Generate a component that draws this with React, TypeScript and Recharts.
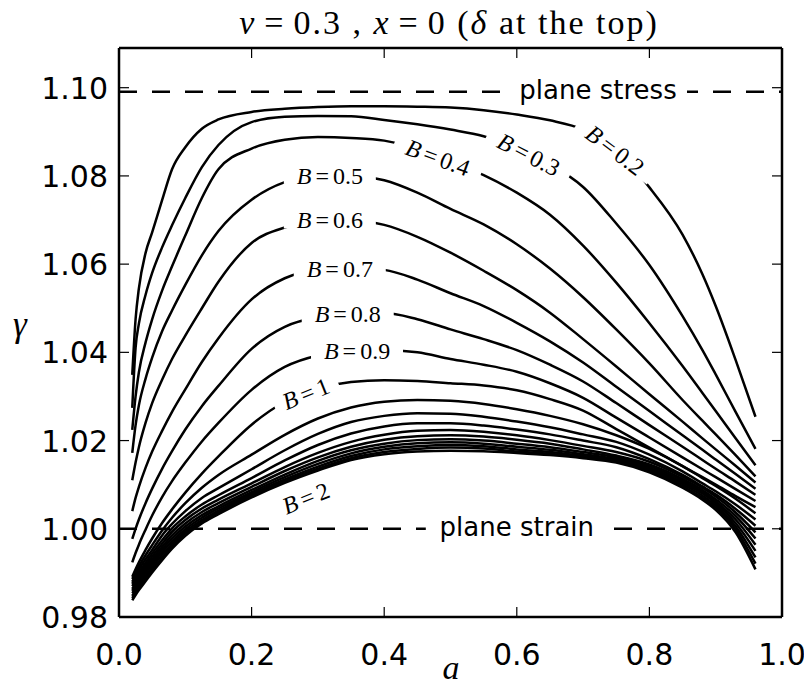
import { LineChart, Line, XAxis, YAxis, ReferenceLine, ReferenceDot } from "recharts"

// a values shared by every curve
const aGrid = [0.02, 0.025, 0.03, 0.04, 0.05, 0.065, 0.08, 0.1, 0.125, 0.15, 0.2, 0.25, 0.3, 0.35, 0.4, 0.45, 0.5, 0.55, 0.6, 0.65, 0.7, 0.75, 0.8, 0.85, 0.88, 0.9, 0.93, 0.96]

// gamma for each B
const gB02 = [1.0349, 1.0475, 1.0545, 1.0625, 1.0672, 1.0745, 1.0815, 1.0865, 1.0907, 1.0928, 1.0945, 1.0952, 1.0956, 1.0958, 1.0958, 1.0957, 1.0955, 1.0949, 1.0939, 1.0926, 1.0905, 1.0858, 1.0774, 1.0667, 1.0577, 1.0505, 1.0383, 1.0254]
const gB03 = [1.0274, 1.0410, 1.0465, 1.0530, 1.0580, 1.0638, 1.0688, 1.0750, 1.0820, 1.0870, 1.0922, 1.0934, 1.0936, 1.0935, 1.0927, 1.0917, 1.0905, 1.0890, 1.0862, 1.0826, 1.0775, 1.0692, 1.0598, 1.0482, 1.0405, 1.0350, 1.0265, 1.0181]
const gB04 = [1.0224, 1.0300, 1.0355, 1.0422, 1.0475, 1.0540, 1.0595, 1.0665, 1.0750, 1.0815, 1.0862, 1.0882, 1.0888, 1.0886, 1.0880, 1.0862, 1.0832, 1.0802, 1.0762, 1.0712, 1.0642, 1.0558, 1.0466, 1.0369, 1.0308, 1.0267, 1.0205, 1.0144]
const gB05 = [1.0172, 1.0235, 1.0280, 1.0340, 1.0388, 1.0448, 1.0495, 1.0553, 1.0620, 1.0675, 1.0746, 1.0786, 1.0800, 1.0800, 1.0790, 1.0762, 1.0725, 1.0690, 1.0645, 1.0590, 1.0525, 1.0452, 1.0375, 1.0292, 1.0245, 1.0214, 1.0167, 1.0119]
const gB06 = [1.0110, 1.0150, 1.0185, 1.0240, 1.0285, 1.0338, 1.0385, 1.0438, 1.0500, 1.0560, 1.0648, 1.0683, 1.0697, 1.0699, 1.0689, 1.0662, 1.0626, 1.0585, 1.0541, 1.0490, 1.0430, 1.0368, 1.0305, 1.0243, 1.0205, 1.0180, 1.0143, 1.0105]
const gB07 = [1.0040, 1.0070, 1.0095, 1.0138, 1.0175, 1.0222, 1.0265, 1.0316, 1.0378, 1.0432, 1.0520, 1.0568, 1.0588, 1.0592, 1.0587, 1.0565, 1.0534, 1.0505, 1.0467, 1.0425, 1.0377, 1.0322, 1.0267, 1.0212, 1.0179, 1.0157, 1.0124, 1.0091]
const gB08 = [0.9977, 1.0000, 1.0021, 1.0058, 1.0091, 1.0136, 1.0176, 1.0225, 1.0278, 1.0324, 1.0408, 1.0458, 1.0480, 1.0488, 1.0489, 1.0475, 1.0452, 1.0430, 1.0405, 1.0372, 1.0334, 1.0285, 1.0235, 1.0186, 1.0156, 1.0136, 1.0107, 1.0077]
const gB09 = [0.9924, 0.9945, 0.9964, 0.9998, 1.0030, 1.0072, 1.0108, 1.0150, 1.0198, 1.0240, 1.0315, 1.0367, 1.0393, 1.0402, 1.0405, 1.0400, 1.0385, 1.0372, 1.0356, 1.0330, 1.0297, 1.0252, 1.0207, 1.0162, 1.0135, 1.0117, 1.0090, 1.0063]
const gB10 = [0.9891, 0.9908, 0.9924, 0.9952, 0.9978, 1.0013, 1.0044, 1.0082, 1.0125, 1.0164, 1.0236, 1.0288, 1.0318, 1.0333, 1.0337, 1.0335, 1.0330, 1.0325, 1.0314, 1.0294, 1.0268, 1.0226, 1.0184, 1.0142, 1.0117, 1.0100, 1.0074, 1.0049]
const gB11 = [0.9886, 0.9901, 0.9915, 0.9940, 0.9963, 0.9996, 1.0025, 1.0058, 1.0093, 1.0122, 1.0168, 1.0213, 1.0250, 1.0275, 1.0288, 1.0292, 1.0290, 1.0283, 1.0271, 1.0256, 1.0237, 1.0212, 1.0181, 1.0142, 1.0115, 1.0097, 1.0068, 1.0035]
const gB12 = [0.9880, 0.9895, 0.9908, 0.9931, 0.9952, 0.9985, 1.0011, 1.0040, 1.0070, 1.0092, 1.0135, 1.0178, 1.0215, 1.0242, 1.0256, 1.0262, 1.0261, 1.0254, 1.0243, 1.0230, 1.0214, 1.0197, 1.0168, 1.0130, 1.0103, 1.0085, 1.0055, 1.0021]
const gB13 = [0.9875, 0.9889, 0.9901, 0.9923, 0.9944, 0.9974, 1.0001, 1.0028, 1.0055, 1.0076, 1.0115, 1.0155, 1.0190, 1.0216, 1.0232, 1.0239, 1.0239, 1.0234, 1.0225, 1.0214, 1.0200, 1.0185, 1.0158, 1.0122, 1.0096, 1.0078, 1.0045, 1.0007]
const gB14 = [0.9870, 0.9883, 0.9895, 0.9917, 0.9937, 0.9966, 0.9993, 1.0020, 1.0046, 1.0066, 1.0103, 1.0140, 1.0172, 1.0197, 1.0213, 1.0222, 1.0224, 1.0220, 1.0212, 1.0201, 1.0188, 1.0174, 1.0152, 1.0118, 1.0093, 1.0073, 1.0037, 0.9992]
const gB15 = [0.9864, 0.9877, 0.9889, 0.9911, 0.9931, 0.9959, 0.9985, 1.0012, 1.0038, 1.0058, 1.0095, 1.0131, 1.0162, 1.0186, 1.0202, 1.0210, 1.0212, 1.0209, 1.0202, 1.0193, 1.0180, 1.0166, 1.0146, 1.0113, 1.0088, 1.0067, 1.0029, 0.9978]
const gB16 = [0.9859, 0.9872, 0.9884, 0.9905, 0.9925, 0.9953, 0.9978, 1.0005, 1.0031, 1.0051, 1.0088, 1.0123, 1.0154, 1.0178, 1.0193, 1.0201, 1.0203, 1.0200, 1.0193, 1.0185, 1.0174, 1.0162, 1.0142, 1.0109, 1.0084, 1.0062, 1.0021, 0.9964]
const gB17 = [0.9854, 0.9866, 0.9878, 0.9899, 0.9919, 0.9947, 0.9972, 0.9999, 1.0025, 1.0046, 1.0083, 1.0117, 1.0147, 1.0171, 1.0186, 1.0194, 1.0196, 1.0193, 1.0186, 1.0179, 1.0169, 1.0158, 1.0138, 1.0105, 1.0080, 1.0058, 1.0013, 0.9950]
const gB18 = [0.9848, 0.9861, 0.9872, 0.9893, 0.9913, 0.9941, 0.9966, 0.9994, 1.0020, 1.0041, 1.0079, 1.0112, 1.0141, 1.0165, 1.0180, 1.0187, 1.0190, 1.0187, 1.0180, 1.0174, 1.0165, 1.0155, 1.0135, 1.0101, 1.0075, 1.0053, 1.0006, 0.9935]
const gB19 = [0.9843, 0.9855, 0.9866, 0.9887, 0.9907, 0.9935, 0.9960, 0.9989, 1.0016, 1.0037, 1.0075, 1.0108, 1.0136, 1.0160, 1.0174, 1.0181, 1.0184, 1.0182, 1.0175, 1.0170, 1.0162, 1.0152, 1.0131, 1.0097, 1.0070, 1.0048, 0.9999, 0.9921]
const gB20 = [0.9838, 0.9850, 0.9861, 0.9881, 0.9901, 0.9929, 0.9955, 0.9984, 1.0012, 1.0033, 1.0071, 1.0104, 1.0132, 1.0156, 1.0169, 1.0175, 1.0177, 1.0176, 1.0172, 1.0167, 1.0160, 1.0150, 1.0128, 1.0093, 1.0066, 1.0043, 0.9992, 0.9908]

const curves = [
  { key: "B0.2", values: gB02 }, { key: "B0.3", values: gB03 }, { key: "B0.4", values: gB04 },
  { key: "B0.5", values: gB05 }, { key: "B0.6", values: gB06 }, { key: "B0.7", values: gB07 },
  { key: "B0.8", values: gB08 }, { key: "B0.9", values: gB09 }, { key: "B1.0", values: gB10 },
  { key: "B1.1", values: gB11 }, { key: "B1.2", values: gB12 }, { key: "B1.3", values: gB13 },
  { key: "B1.4", values: gB14 }, { key: "B1.5", values: gB15 }, { key: "B1.6", values: gB16 },
  { key: "B1.7", values: gB17 }, { key: "B1.8", values: gB18 }, { key: "B1.9", values: gB19 },
  { key: "B2.0", values: gB20 },
]

const xTicks = [0, 0.2, 0.4, 0.6, 0.8, 1.0]
const yTicks = [0.98, 1.0, 1.02, 1.04, 1.06, 1.08, 1.1]

const planeStress = 1.0991
const planeStrain = 1.0

// inline curve labels: text, a, gamma, angle
const curveLabels = [
  { text: "0.2", a: 0.748, g: 1.0858, angle: 37, gap: true },
  { text: "0.3", a: 0.618, g: 1.0848, angle: 27, gap: true },
  { text: "0.4", a: 0.481, g: 1.0841, angle: 20, gap: true },
  { text: "0.5", a: 0.318, g: 1.0800, angle: 0, gap: true },
  { text: "0.6", a: 0.318, g: 1.0699, angle: 0, gap: true },
  { text: "0.7", a: 0.333, g: 1.0590, angle: 0, gap: true },
  { text: "0.8", a: 0.345, g: 1.0486, angle: 0, gap: true },
  { text: "0.9", a: 0.359, g: 1.0402, angle: 0, gap: true },
  { text: "1", a: 0.282, g: 1.0306, angle: -22, gap: true },
  { text: "2", a: 0.282, g: 1.0069, angle: -22, gap: false },
]

const tableData = aGrid.map((a, i) => {
  const row: Record<string, number> = { a }
  curves.forEach((c) => { row[c.key] = c.values[i] })
  return row
})

const serif = "'Liberation Serif', 'DejaVu Serif', serif"
const sans = "'DejaVu Sans', sans-serif"

const BottomTick = (p: any) => (
  <g>
    <line x1={p.x} y1={p.y} x2={p.x} y2={p.y - 10} stroke="#000" strokeWidth={1.2} />
    <text x={p.x} y={p.y + 48} textAnchor="middle" fontFamily={sans} fontSize={30} fill="#000">
      {Number(p.payload.value).toFixed(1)}
    </text>
  </g>
)
const TopTick = (p: any) => (
  <line x1={p.x} y1={p.y} x2={p.x} y2={p.y + 10} stroke="#000" strokeWidth={1.2} />
)
const LeftTick = (p: any) => (
  <g>
    <line x1={p.x} y1={p.y} x2={p.x + 10} y2={p.y} stroke="#000" strokeWidth={1.2} />
    <text x={p.x - 11} y={p.y + 11} textAnchor="end" fontFamily={sans} fontSize={30} fill="#000">
      {Number(p.payload.value).toFixed(2)}
    </text>
  </g>
)
const RightTick = (p: any) => (
  <line x1={p.x} y1={p.y} x2={p.x - 10} y2={p.y} stroke="#000" strokeWidth={1.2} />
)

const bLabel = (text: string, angle: number, gap: boolean) => (p: any) => {
  const w = text.length > 1 ? 92 : 68
  return (
    <g transform={`rotate(${angle} ${p.cx} ${p.cy})`}>
      {gap && <rect x={p.cx - w / 2} y={p.cy - 8} width={w} height={16} fill="#fff" />}
      <text x={p.cx} y={p.cy} textAnchor="middle" dominantBaseline="central" fontFamily={serif} fontSize={24} fill="#000">
        <tspan fontStyle="italic">B</tspan>
        <tspan dx={4}>=</tspan>
        <tspan dx={4}>{text}</tspan>
      </text>
    </g>
  )
}

const planeLabel = (text: string, w: number) => (p: any) => (
  <g>
    <rect x={p.cx - w / 2} y={p.cy - 11} width={w} height={20} fill="#fff" />
    <text x={p.cx} y={p.cy + 7} textAnchor="middle" fontFamily={sans} fontSize={26} fill="#000">{text}</text>
  </g>
)

const axisStroke = { stroke: "#000", strokeWidth: 2.5 }

export default function App() {
  return (
    <div style={{ position: "absolute", left: 0, top: 0, width: 804, height: 687, background: "#fff" }}>
      <LineChart width={804} height={687} data={tableData} margin={{ top: 47, right: 21, bottom: 0, left: 0 }}>
        <XAxis xAxisId="b" dataKey="a" type="number" domain={[0, 1]} ticks={xTicks} interval={0} height={70}
          tickSize={0} tickMargin={0} tickLine={false} tick={BottomTick} allowDataOverflow axisLine={axisStroke} />
        <XAxis xAxisId="t" orientation="top" dataKey="a" type="number" domain={[0, 1]} ticks={xTicks} interval={0} height={1}
          tickSize={0} tickMargin={0} tickLine={false} tick={TopTick} allowDataOverflow axisLine={axisStroke} />
        <YAxis yAxisId="l" type="number" domain={[0.98, 1.109]} ticks={yTicks} interval={0} width={119}
          tickSize={0} tickMargin={0} tickLine={false} tick={LeftTick} allowDataOverflow axisLine={axisStroke} />
        <YAxis yAxisId="r" orientation="right" type="number" domain={[0.98, 1.109]} ticks={yTicks} interval={0} width={1}
          tickSize={0} tickMargin={0} tickLine={false} tick={RightTick} allowDataOverflow axisLine={axisStroke} />

        <ReferenceLine xAxisId="b" yAxisId="l" y={planeStress} stroke="#000" strokeWidth={2.5} strokeDasharray="18 15" />
        <ReferenceLine xAxisId="b" yAxisId="l" y={planeStrain} stroke="#000" strokeWidth={2.5} strokeDasharray="18 15" />

        {curves.map((c) => (
          <Line key={c.key} xAxisId="b" yAxisId="l" type="monotone" dataKey={c.key} stroke="#000" strokeWidth={2.5}
            dot={false} activeDot={false} isAnimationActive={false} />
        ))}

        <ReferenceDot xAxisId="b" yAxisId="l" x={0.7225} y={planeStress} r={0} ifOverflow="visible" shape={planeLabel("plane stress", 178)} />
        <ReferenceDot xAxisId="b" yAxisId="l" x={0.6} y={planeStrain} r={0} ifOverflow="visible" shape={planeLabel("plane strain", 182)} />
        {curveLabels.map((l) => (
          <ReferenceDot key={l.text} xAxisId="b" yAxisId="l" x={l.a} y={l.g} r={0} ifOverflow="visible"
            shape={bLabel(l.text, l.angle, l.gap)} />
        ))}
      </LineChart>

      <svg width={804} height={687} style={{ position: "absolute", left: 0, top: 0, pointerEvents: "none" }}>
        <text x={449} y={34} textAnchor="middle" fontFamily={serif} fontSize={34} fill="#000" letterSpacing={2}>
          <tspan fontStyle="italic">ν</tspan>
          <tspan dx={8}>=</tspan>
          <tspan dx={8}>0.3 , </tspan>
          <tspan fontStyle="italic">x</tspan>
          <tspan dx={8}>=</tspan>
          <tspan dx={8}>0 (</tspan>
          <tspan fontStyle="italic">δ</tspan>
          <tspan> at the top)</tspan>
        </text>
        <text x={451} y={679} textAnchor="middle" fontFamily={serif} fontStyle="italic" fontSize={34} fill="#000">a</text>
        <text x={20} y={336} textAnchor="middle" fontFamily={serif} fontStyle="italic" fontSize={35} fill="#000">γ</text>
      </svg>
    </div>
  )
}
